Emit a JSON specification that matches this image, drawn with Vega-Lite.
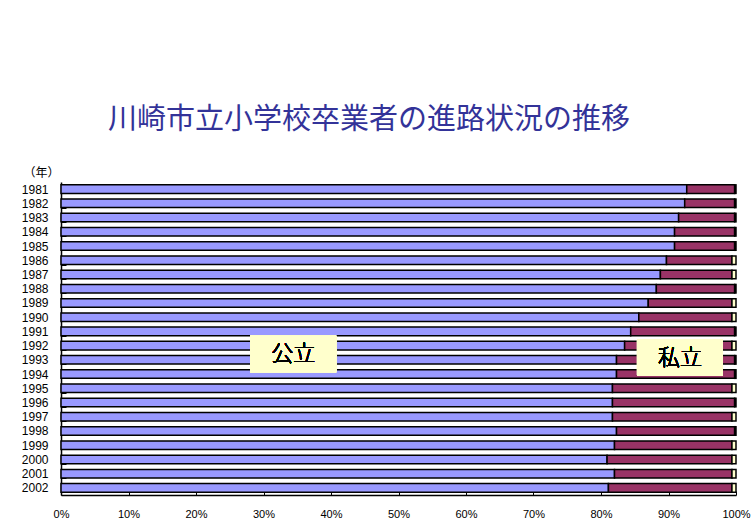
{
  "$schema": "https://vega.github.io/schema/vega-lite/v6.json",
  "width": 675,
  "height": 313,
  "autosize": "none",
  "padding": {"left": 61, "top": 182, "right": 15, "bottom": 29},
  "background": "white",
  "title": {
    "text": "川崎市立小学校卒業者の進路状況の推移",
    "anchor": "start",
    "frame": "group",
    "dx": 47,
    "offset": 31,
    "font": "Noto Sans CJK JP",
    "fontSize": 29,
    "fontWeight": "normal",
    "color": "#333399"
  },
  "config": {"view": {"stroke": null}},
  "data": {
    "values": [
      {"year": "1981", "public": 92.7, "private": 7.1, "other": 0.2},
      {"year": "1982", "public": 92.4, "private": 7.4, "other": 0.2},
      {"year": "1983", "public": 91.5, "private": 8.3, "other": 0.2},
      {"year": "1984", "public": 90.9, "private": 8.9, "other": 0.2},
      {"year": "1985", "public": 90.9, "private": 8.9, "other": 0.2},
      {"year": "1986", "public": 89.7, "private": 9.7, "other": 0.6},
      {"year": "1987", "public": 88.8, "private": 10.6, "other": 0.6},
      {"year": "1988", "public": 88.2, "private": 11.6, "other": 0.2},
      {"year": "1989", "public": 87.0, "private": 12.4, "other": 0.6},
      {"year": "1990", "public": 85.6, "private": 13.8, "other": 0.6},
      {"year": "1991", "public": 84.4, "private": 15.4, "other": 0.2},
      {"year": "1992", "public": 83.5, "private": 15.9, "other": 0.6},
      {"year": "1993", "public": 82.3, "private": 17.5, "other": 0.2},
      {"year": "1994", "public": 82.3, "private": 17.5, "other": 0.2},
      {"year": "1995", "public": 81.7, "private": 17.7, "other": 0.6},
      {"year": "1996", "public": 81.7, "private": 18.1, "other": 0.2},
      {"year": "1997", "public": 81.7, "private": 17.7, "other": 0.6},
      {"year": "1998", "public": 82.3, "private": 17.5, "other": 0.2},
      {"year": "1999", "public": 82.0, "private": 17.4, "other": 0.6},
      {"year": "2000", "public": 80.9, "private": 18.5, "other": 0.6},
      {"year": "2001", "public": 82.0, "private": 17.4, "other": 0.6},
      {"year": "2002", "public": 81.1, "private": 18.3, "other": 0.6}
    ]
  },
  "layer": [
    {
      "transform": [{"fold": ["public", "private", "other"], "as": ["key", "value"]}],
      "mark": {"type": "bar", "stroke": "black", "strokeWidth": 1.5},
      "encoding": {
        "y": {
          "field": "year",
          "type": "ordinal",
          "scale": {"paddingInner": 0.4, "paddingOuter": 0.2},
          "axis": {
            "title": "（年）",
            "titleAngle": 0,
            "titleAlign": "center",
            "titleBaseline": "middle",
            "titleX": -20,
            "titleY": -10,
            "titleFont": "Noto Sans CJK JP",
            "titleFontSize": 12,
            "titleFontWeight": "normal",
            "titleColor": "black",
            "labelFont": "Liberation Sans",
            "labelFontSize": 12,
            "labelColor": "black",
            "labelPadding": 18,
            "tickSize": -5,
            "tickBand": "extent",
            "tickColor": "black",
            "tickWidth": 1,
            "domainColor": "black",
            "domainWidth": 1.5
          }
        },
        "x": {
          "field": "value",
          "type": "quantitative",
          "stack": "zero",
          "scale": {"domain": [0, 100], "nice": false},
          "axis": {
            "title": null,
            "values": [0, 10, 20, 30, 40, 50, 60, 70, 80, 90, 100],
            "labelExpr": "datum.value + '%'",
            "labelFlush": false,
            "labelOverlap": false,
            "labelFont": "Liberation Sans",
            "labelFontSize": 11,
            "labelColor": "black",
            "labelPadding": 17,
            "tickSize": -4,
            "tickColor": "black",
            "domainColor": "black",
            "domainWidth": 1.5,
            "grid": false
          }
        },
        "color": {
          "field": "key",
          "type": "nominal",
          "scale": {"domain": ["public", "private", "other"], "range": ["#9999FF", "#993366", "#FFFFCC"]},
          "legend": null
        },
        "order": {"field": "key", "sort": "descending"}
      }
    },
    {
      "mark": {"type": "point", "shape": "M-1,-0.424L1,-0.424L1,0.424L-1,0.424Z", "filled": true, "size": 7396, "fill": "#FFFFCC", "fillOpacity": 1, "opacity": 1, "strokeWidth": 0},
      "encoding": {"x": {"datum": 34.4}, "y": {"datum": "1993"}, "yOffset": {"value": -1.5}}
    },
    {
      "mark": {"type": "point", "shape": "M-1,-0.424L1,-0.424L1,0.424L-1,0.424Z", "filled": true, "size": 7396, "fill": "#FFFFCC", "fillOpacity": 1, "opacity": 1, "strokeWidth": 0},
      "encoding": {"x": {"datum": 91.7}, "y": {"datum": "1993"}, "yOffset": {"value": 2}}
    },
    {
      "mark": {"type": "text", "font": "Noto Sans CJK JP", "fontSize": 22, "fontWeight": 300, "fill": "black", "strokeWidth": 0, "baseline": "middle", "align": "center"},
      "encoding": {"x": {"datum": 34.4}, "y": {"datum": "1993"}, "yOffset": {"value": -1.5}, "text": {"value": "公立"}}
    },
    {
      "mark": {"type": "text", "font": "Noto Sans CJK JP", "fontSize": 22, "fontWeight": 300, "fill": "black", "strokeWidth": 0, "baseline": "middle", "align": "center"},
      "encoding": {"x": {"datum": 91.7}, "y": {"datum": "1993"}, "yOffset": {"value": 2}, "text": {"value": "私立"}}
    }
  ]
}
